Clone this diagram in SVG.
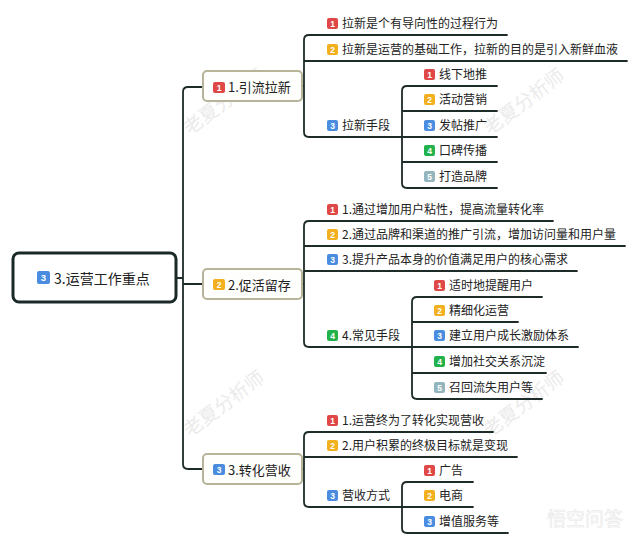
<svg xmlns="http://www.w3.org/2000/svg" width="640" height="545" viewBox="0 0 640 545">
<style>
.t{font-family:"Noto Sans CJK SC","Liberation Sans",sans-serif;fill:#222;}
.c{font-size:12px;}
.b{font-size:13px;}
.r{font-size:14px;}
.n{font-family:"Liberation Sans",sans-serif;font-size:8.5px;font-weight:bold;fill:#fff;text-anchor:middle;}
.ln{fill:none;stroke:#1d2b29;stroke-width:1.8;stroke-linecap:round;}
.br{fill:#fefefc;stroke:#b7b497;stroke-width:2;}
.wm{font-family:"Noto Sans CJK SC",sans-serif;font-size:19px;fill:#ebebeb;text-anchor:middle;}
.k1{fill:#e04848;}.k2{fill:#f2b01e;}.k3{fill:#4a8de0;}.k4{fill:#22b24c;}.k5{fill:#93b5bd;}
</style>
<rect width="640" height="545" fill="#ffffff"/>
<g id="watermarks">
<text class="wm" transform="translate(228,107) rotate(-37)">老夏分析师</text>
<text class="wm" transform="translate(528,107) rotate(-37)">老夏分析师</text>
<text class="wm" transform="translate(228,409) rotate(-37)">老夏分析师</text>
<text class="wm" transform="translate(528,409) rotate(-37)">老夏分析师</text>
<text x="547" y="526" style="font-family:'Noto Sans CJK SC',sans-serif;font-size:19px;fill:#fbfbfb;stroke:#e6e6e6;stroke-width:0.5">悟空问答</text>
</g>
<g id="connectors">
<path class="ln" d="M176,278 H183 M203,87 H188 Q183,87 183,92 V464 Q183,469 188,469 H203 M183,284 H203"/>
<path class="ln" d="M507,35 H309 Q304,35 304,40 V132 Q304,137 309,137 H402 M304,61 H627 M302,86 H304"/>
<path class="ln" d="M497,86 H407 Q402,86 402,91 V183 Q402,188 407,188 H497 M402,111 H497 M402,137 H497 M402,162 H497"/>
<path class="ln" d="M553,221 H309 Q304,221 304,226 V342 Q304,347 309,347 H412 M304,246 H625 M304,271 H577 M302,284 H304"/>
<path class="ln" d="M542,297 H417 Q412,297 412,302 V394 Q412,399 417,399 H542 M412,322 H518 M412,347 H578 M412,373 H546"/>
<path class="ln" d="M493,432 H309 Q304,432 304,437 V502 Q304,507 309,507 H402 M304,457 H517 M302,469 H304"/>
<path class="ln" d="M473,482 H407 Q402,482 402,487 V528 Q402,533 407,533 H508 M402,507 H473"/>
</g>
<g id="root">
<rect x="13" y="253" width="163" height="49" rx="6" fill="#ffffff" stroke="#1a2927" stroke-width="3"/>
<rect class="k3" x="37" y="271" width="13" height="13" rx="2"/><text class="n" x="43.5" y="281" style="font-size:9.5px">3</text>
<text class="t r" x="54" y="284">3.运营工作重点</text>
</g>
<g id="b1">
<rect class="br" x="203" y="71" width="99" height="30" rx="4"/>
<rect class="k1" x="213" y="82" width="12" height="11" rx="2"/><text class="n" x="219" y="91">1</text>
<text class="t b" x="228" y="92">1.引流拉新</text>
</g>
<g id="b1c1"><rect class="k1" x="327" y="18" width="11" height="11" rx="2"/><text class="n" x="332.5" y="27">1</text><text class="t c" x="342" y="28">拉新是个有导向性的过程行为</text></g>
<g id="b1c2"><rect class="k2" x="327" y="44" width="11" height="11" rx="2"/><text class="n" x="332.5" y="53">2</text><text class="t c" x="342" y="54">拉新是运营的基础工作，拉新的目的是引入新鲜血液</text></g>
<g id="b1c3"><rect class="k3" x="327" y="120" width="11" height="11" rx="2"/><text class="n" x="332.5" y="129">3</text><text class="t c" x="342" y="130">拉新手段</text></g>
<g id="b1g1"><rect class="k1" x="424" y="69" width="11" height="11" rx="2"/><text class="n" x="429.5" y="78">1</text><text class="t c" x="439" y="79">线下地推</text></g>
<g id="b1g2"><rect class="k2" x="424" y="94" width="11" height="11" rx="2"/><text class="n" x="429.5" y="103">2</text><text class="t c" x="439" y="104">活动营销</text></g>
<g id="b1g3"><rect class="k3" x="424" y="120" width="11" height="11" rx="2"/><text class="n" x="429.5" y="129">3</text><text class="t c" x="439" y="130">发帖推广</text></g>
<g id="b1g4"><rect class="k4" x="424" y="145" width="11" height="11" rx="2"/><text class="n" x="429.5" y="154">4</text><text class="t c" x="439" y="155">口碑传播</text></g>
<g id="b1g5"><rect class="k5" x="424" y="171" width="11" height="11" rx="2"/><text class="n" x="429.5" y="180">5</text><text class="t c" x="439" y="181">打造品牌</text></g>
<g id="b2">
<rect class="br" x="203" y="269" width="99" height="30" rx="4"/>
<rect class="k2" x="213" y="279" width="12" height="11" rx="2"/><text class="n" x="219" y="288">2</text>
<text class="t b" x="228" y="290">2.促活留存</text>
</g>
<g id="b2c1"><rect class="k1" x="327" y="204" width="11" height="11" rx="2"/><text class="n" x="332.5" y="213">1</text><text class="t c" x="342" y="214">1.通过增加用户粘性，提高流量转化率</text></g>
<g id="b2c2"><rect class="k2" x="327" y="229" width="11" height="11" rx="2"/><text class="n" x="332.5" y="238">2</text><text class="t c" x="342" y="239">2.通过品牌和渠道的推广引流，增加访问量和用户量</text></g>
<g id="b2c3"><rect class="k3" x="327" y="254" width="11" height="11" rx="2"/><text class="n" x="332.5" y="263">3</text><text class="t c" x="342" y="264">3.提升产品本身的价值满足用户的核心需求</text></g>
<g id="b2c4"><rect class="k4" x="327" y="330" width="11" height="11" rx="2"/><text class="n" x="332.5" y="339">4</text><text class="t c" x="342" y="340">4.常见手段</text></g>
<g id="b2g1"><rect class="k1" x="434" y="280" width="11" height="11" rx="2"/><text class="n" x="439.5" y="289">1</text><text class="t c" x="449" y="290">适时地提醒用户</text></g>
<g id="b2g2"><rect class="k2" x="434" y="305" width="11" height="11" rx="2"/><text class="n" x="439.5" y="314">2</text><text class="t c" x="449" y="315">精细化运营</text></g>
<g id="b2g3"><rect class="k3" x="434" y="330" width="11" height="11" rx="2"/><text class="n" x="439.5" y="339">3</text><text class="t c" x="449" y="340">建立用户成长激励体系</text></g>
<g id="b2g4"><rect class="k4" x="434" y="356" width="11" height="11" rx="2"/><text class="n" x="439.5" y="365">4</text><text class="t c" x="449" y="366">增加社交关系沉淀</text></g>
<g id="b2g5"><rect class="k5" x="434" y="382" width="11" height="11" rx="2"/><text class="n" x="439.5" y="391">5</text><text class="t c" x="449" y="392">召回流失用户等</text></g>
<g id="b3">
<rect class="br" x="203" y="454" width="99" height="30" rx="4"/>
<rect class="k3" x="213" y="464" width="12" height="11" rx="2"/><text class="n" x="219" y="473">3</text>
<text class="t b" x="228" y="475">3.转化营收</text>
</g>
<g id="b3c1"><rect class="k1" x="327" y="415" width="11" height="11" rx="2"/><text class="n" x="332.5" y="424">1</text><text class="t c" x="342" y="425">1.运营终为了转化实现营收</text></g>
<g id="b3c2"><rect class="k2" x="327" y="440" width="11" height="11" rx="2"/><text class="n" x="332.5" y="449">2</text><text class="t c" x="342" y="450">2.用户积累的终极目标就是变现</text></g>
<g id="b3c3"><rect class="k3" x="327" y="490" width="11" height="11" rx="2"/><text class="n" x="332.5" y="499">3</text><text class="t c" x="342" y="500">营收方式</text></g>
<g id="b3g1"><rect class="k1" x="424" y="465" width="11" height="11" rx="2"/><text class="n" x="429.5" y="474">1</text><text class="t c" x="439" y="475">广告</text></g>
<g id="b3g2"><rect class="k2" x="424" y="490" width="11" height="11" rx="2"/><text class="n" x="429.5" y="499">2</text><text class="t c" x="439" y="500">电商</text></g>
<g id="b3g3"><rect class="k3" x="424" y="516" width="11" height="11" rx="2"/><text class="n" x="429.5" y="525">3</text><text class="t c" x="439" y="526">增值服务等</text></g>
</svg>
